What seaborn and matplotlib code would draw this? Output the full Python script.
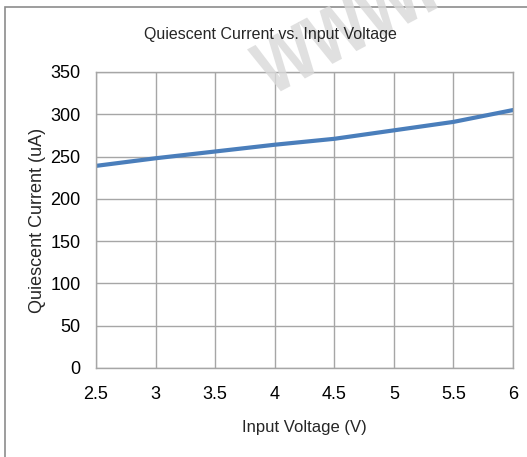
import pandas as pd
import seaborn as sns
import matplotlib.pyplot as plt
from matplotlib.patches import Rectangle, PathPatch
from matplotlib.textpath import TextPath
from matplotlib.transforms import Affine2D

# ---------------------------
# DATA
# ---------------------------
voltage = [2.5, 3.0, 3.5, 4.0, 4.5, 5.0, 5.5, 6.0]
current = [239, 248, 256, 264, 271, 281, 291, 305]
x_ticks = [2.5, 3, 3.5, 4, 4.5, 5, 5.5, 6]
x_tick_labels = ["2.5", "3", "3.5", "4", "4.5", "5", "5.5", "6"]
y_ticks = [0, 50, 100, 150, 200, 250, 300, 350]

df = pd.DataFrame({"Input Voltage (V)": voltage, "Quiescent Current (uA)": current})

# ---------------------------
# STYLE
# ---------------------------
sns.set_theme(style="white")
plt.rcParams["font.family"] = ["Liberation Sans", "DejaVu Sans"]

fig = plt.figure(figsize=(5.27, 4.57), dpi=100)
ax = fig.add_axes([96 / 527, 1 - 368 / 457, (513 - 96) / 527, (368 - 72) / 457])

sns.lineplot(
    data=df,
    x="Input Voltage (V)",
    y="Quiescent Current (uA)",
    color="#4a7ebb",
    linewidth=3,
    ax=ax,
)

ax.set_xlim(2.5, 6)
ax.set_ylim(0, 350)
ax.set_xticks(x_ticks)
ax.set_xticklabels(x_tick_labels)
ax.set_yticks(y_ticks)
ax.grid(True, color="#a6a6a6", linewidth=1)
for s in ax.spines.values():
    s.set_color("#a6a6a6")
    s.set_linewidth(1)
ax.tick_params(axis="both", length=0, labelsize=13, colors="black")
ax.tick_params(axis="y", pad=11)
ax.tick_params(axis="x", pad=13)
ax.set_xlabel("Input Voltage (V)", fontsize=12, labelpad=12)
ax.set_ylabel("Quiescent Current (uA)", fontsize=13, labelpad=3)

fig.text(270 / 527, 1 - 35 / 457, "Quiescent Current vs. Input Voltage",
         ha="center", va="center", fontsize=11.5, zorder=5)

# chart border
fig.patches.append(Rectangle((5 / 527, -0.1), 1.2, 1 - 7 / 457 + 0.1,
                             transform=fig.transFigure, fill=False,
                             edgecolor="#8c8c8c", linewidth=1.2))

# watermark (narrowed, rotated text path, in pixel coords)
wm = TextPath((0, 0), "www.c", size=100,
              prop={"family": "Liberation Sans", "weight": "bold"})
wm_tr = Affine2D().scale(0.75, 1).rotate_deg(28).translate(272, 457 - 96)
fig.patches.append(PathPatch(wm, transform=wm_tr, facecolor="#d9d9d9",
                             edgecolor="none", alpha=0.8, zorder=2))

fig.savefig("out.png", dpi=100)
